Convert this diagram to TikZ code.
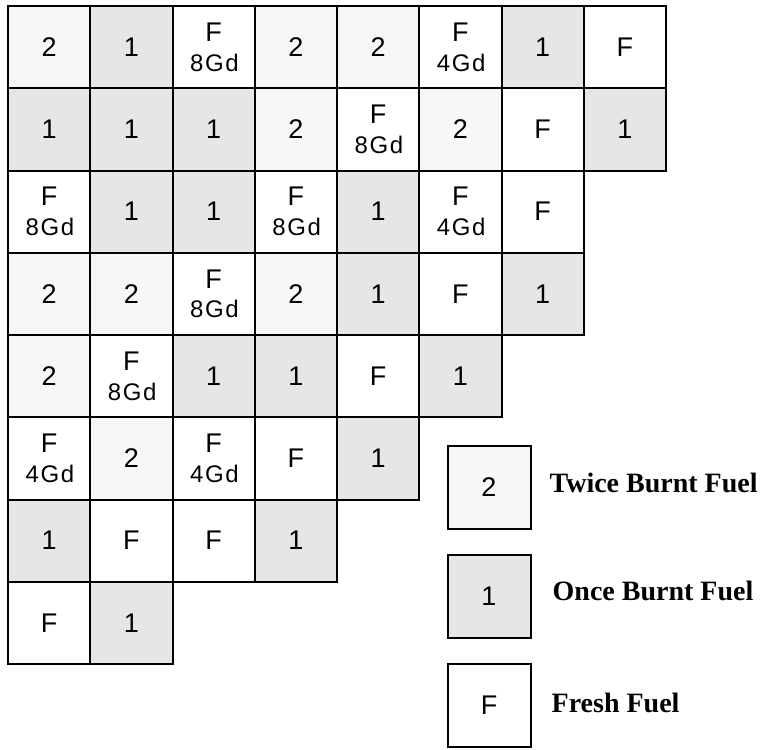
\documentclass[tikz,border=0pt]{standalone}
\usepackage{fontspec}
\setmainfont{Liberation Serif}
\newfontfamily\cellfont{Liberation Sans}
\newfontfamily\gdfamily[LetterSpace=7]{Liberation Sans}
\newcommand\gdfont{\gdfamily\fontsize{24}{29.8}\selectfont}
\newcommand\gdtxt[1]{F\\{\gdfont\hspace{1.5pt}#1Gd}}
\definecolor{twicegray}{HTML}{F7F7F7}
\definecolor{oncegray}{HTML}{E6E6E6}

\tikzset{
  cell/.style={draw, line width=2pt, minimum size=82.25pt, inner sep=0pt,
    font=\cellfont\fontsize{27}{29.8}\selectfont, align=center},
  twice/.style={cell, fill=twicegray, text height=18.4pt},
  once/.style={cell, fill=oncegray, text height=18.4pt},
  fresh/.style={cell, fill=white, text height=18.4pt},
  gd/.style={cell, fill=white},
  legtxt/.style={font=\bfseries\fontsize{28}{32}\selectfont, inner sep=0pt, anchor=base west},
}

\begin{document}
\begin{tikzpicture}[x=1pt, y=-1pt]
    \useasboundingbox (0,0) rectangle (762,749);

    % core map, row by row from the top
    \foreach \row [count=\r from 0] in {
        {twice/2, once/1, gd/\gdtxt8, twice/2, twice/2, gd/\gdtxt4, once/1, fresh/F},
        {once/1, once/1, once/1, twice/2, gd/\gdtxt8, twice/2, fresh/F, once/1},
        {gd/\gdtxt8, once/1, once/1, gd/\gdtxt8, once/1, gd/\gdtxt4, fresh/F},
        {twice/2, twice/2, gd/\gdtxt8, twice/2, once/1, fresh/F, once/1},
        {twice/2, gd/\gdtxt8, once/1, once/1, fresh/F, once/1},
        {gd/\gdtxt4, twice/2, gd/\gdtxt4, fresh/F, once/1},
        {once/1, fresh/F, fresh/F, once/1},
        {fresh/F, once/1}}
      \foreach \kind/\txt [count=\c from 0] in \row
        \node[\kind] (c-\r-\c) at ({8+82.25*(\c+0.5)}, {6+82.25*(\r+0.5)}) {\txt};

    % legend
    \node[twice, minimum size=83pt] (k2) at (489,487) {2};
    \node[once, minimum size=83pt] (k1) at (489,596.5) {1};
    \node[fresh, minimum size=83pt] (kF) at (489,705.5) {F};
    \node[legtxt] (ltwice) at ([xshift=18pt, yshift=-5.3pt]k2.east) {Twice Burnt Fuel};
    \node[legtxt] (lonce) at ([xshift=21pt, yshift=-4pt]k1.east) {Once Burnt Fuel};
    \node[legtxt] (lfresh) at ([xshift=20pt, yshift=-6.5pt]kF.east) {Fresh Fuel};
\end{tikzpicture}
\end{document}
